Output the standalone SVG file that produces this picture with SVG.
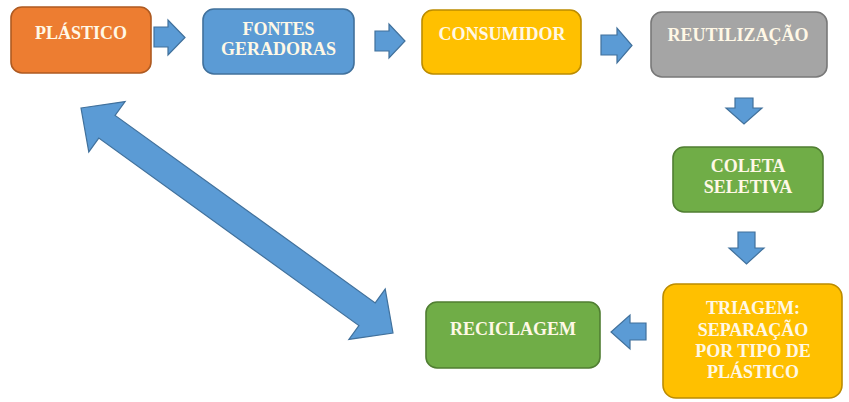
<svg xmlns="http://www.w3.org/2000/svg" width="849" height="402" viewBox="0 0 849 402">
<style>
.box{stroke-width:1.6}
.t{font-family:"Liberation Serif","Times New Roman",serif;font-weight:bold;font-size:18px;fill:#FFF8E6;text-anchor:middle}
.arr{fill:#5B9BD5;stroke:#41719C;stroke-width:1.2;stroke-linejoin:miter}
</style>
<rect width="849" height="402" fill="#FFFFFF"/>
<g id="plastico"><rect class="box" x="11" y="7" width="140" height="66" rx="11" fill="#ED7D31" stroke="#AE5A21"/><text class="t" x="81" y="39">PLÁSTICO</text></g>
<g id="fontes"><rect class="box" x="203" y="9" width="151" height="65" rx="11" fill="#5B9BD5" stroke="#41719C"/><text class="t" x="278.5" y="35">FONTES</text><text class="t" x="278.5" y="55">GERADORAS</text></g>
<g id="consumidor"><rect class="box" x="422" y="10" width="159" height="64" rx="11" fill="#FFC000" stroke="#BC8C00"/><text class="t" x="502" y="40">CONSUMIDOR</text></g>
<g id="reutilizacao"><rect class="box" x="651" y="12" width="176" height="65" rx="11" fill="#A5A5A5" stroke="#787878"/><text class="t" x="738" y="41">REUTILIZAÇÃO</text></g>
<g id="coleta"><rect class="box" x="673" y="147" width="150" height="65" rx="11" fill="#70AD47" stroke="#507E32"/><text class="t" x="748" y="172">COLETA</text><text class="t" x="748" y="193">SELETIVA</text></g>
<g id="triagem"><rect class="box" x="663" y="284" width="179" height="114" rx="13" fill="#FFC000" stroke="#BC8C00"/><text class="t" x="753" y="314">TRIAGEM:</text><text class="t" x="753" y="336">SEPARAÇÃO</text><text class="t" x="753" y="357">POR TIPO DE</text><text class="t" x="753" y="378">PLÁSTICO</text></g>
<g id="reciclagem"><rect class="box" x="426" y="302" width="174" height="66" rx="11" fill="#70AD47" stroke="#507E32"/><text class="t" x="513" y="335">RECICLAGEM</text></g>
<g id="connectors">
<polygon class="arr" points="154,27 168,27 168,20 185,37.5 168,55 168,47 154,47"/>
<polygon class="arr" points="375,31 389,31 389,24 405,41 389,58 389,51 375,51"/>
<polygon class="arr" points="601,35 617,35 617,28 632,45.5 617,63 617,55 601,55"/>
<polygon class="arr" points="735,98 753,98 753,108 762,108 744,124 726,108 735,108"/>
<polygon class="arr" points="738,232 755,232 755,248 764,248 746.5,264 729,248 738,248"/>
<polygon class="arr" points="646,323 646,340 630,340 630,349 611,332 630,315 630,323"/>
<polygon class="arr" points="81,108 125.1,101.6 115.1,115.4 375.2,302.9 385.2,289.1 393,333 348.9,339.4 358.9,325.6 98.8,138.1 88.8,151.9"/>
</g>
</svg>
